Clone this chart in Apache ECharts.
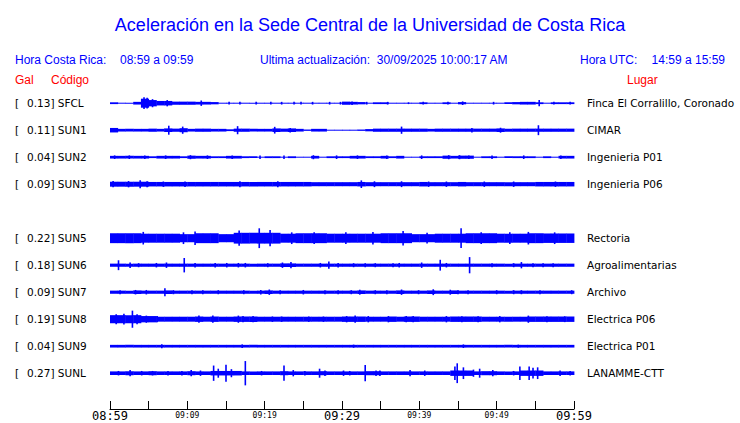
<!DOCTYPE html>
<html>
<head>
<meta charset="utf-8">
<script src="https://cdn.jsdelivr.net/npm/echarts@6/dist/echarts.min.js"></script>
<style>
  html, body { margin: 0; background: #fff; }
  #chart { width: 740px; height: 423px; }
</style>
</head>
<body>
<div id="chart"></div>
<script>
// filas (la fila 4 va vacia, como en la figura)
const codes = ['SFCL', 'SUN1', 'SUN2', 'SUN3', '', 'SUN5', 'SUN6', 'SUN7', 'SUN8', 'SUN9', 'SUNL']
const places = ['Finca El Corralillo, Coronado', 'CIMAR', 'Ingenieria P01', 'Ingenieria P06', '',
  'Rectoria', 'Agroalimentarias', 'Archivo', 'Electrica P06', 'Electrica P01', 'LANAMME-CTT']
const peakGal = ['0.13', '0.11', '0.04', '0.09', '', '0.22', '0.18', '0.09', '0.19', '0.04', '0.27']

// etiquetas del eje de tiempo (cada 5 min, desde 08:59)
const timeLabels = ['08:59', '', '09:09', '', '09:19', '', '09:29', '', '09:39', '', '09:49', '', '09:59']
const bigLabels = ['08:59', '09:29', '09:59']

// envolvente por minuto (Gal, media amplitud)
const envSFCL = [0.02, 0.01, 0.01, 0.03, 0.10, 0.07, 0.05, 0.05, 0.035, 0.035, 0.035, 0.03, 0.03, 0.025, 0.01,
  0.01, 0.01, 0.01, 0.01, 0.01, 0.01, 0.01, 0.01, 0.01, 0.01, 0.01, 0.01, 0.01, 0.01, 0.01,
  0.035, 0.03, 0.025, 0.01, 0.02, 0.02, 0.01, 0.01, 0.01, 0.01, 0.02, 0.01, 0.01, 0.02, 0.01,
  0.025, 0.01, 0.01, 0.01, 0.01, 0.01, 0.02, 0.025, 0.03, 0.03, 0.02, 0.01, 0.02, 0.02, 0.02]
const envSUN1 = [0.05, 0.03, 0.03, 0.03, 0.03, 0.035, 0.03, 0.04, 0.035, 0.045, 0.03, 0.035, 0.035, 0.03, 0.03,
  0.02, 0.035, 0.035, 0.03, 0.03, 0.03, 0.04, 0.035, 0.04, 0.03, 0.015, 0.03, 0.03, 0.01, 0.01,
  0.01, 0.01, 0.015, 0.025, 0.035, 0.035, 0.035, 0.035, 0.035, 0.035, 0.035, 0.03, 0.035, 0.035, 0.035,
  0.035, 0.035, 0.035, 0.035, 0.035, 0.04, 0.035, 0.035, 0.035, 0.035, 0.035, 0.035, 0.035, 0.035, 0.035]
const envSUN2 = [0.03, 0.03, 0.03, 0.03, 0.03, 0.02, 0.03, 0.03, 0.03, 0.02, 0.035, 0.03, 0.03, 0.02, 0.02,
  0.03, 0.03, 0.02, 0.02, 0.01, 0.02, 0.02, 0.01, 0.02, 0.01, 0.01, 0.03, 0.01, 0.02, 0.02,
  0.02, 0.03, 0.03, 0.02, 0.02, 0.03, 0.02, 0.03, 0.01, 0.01, 0.02, 0.02, 0.02, 0.035, 0.03,
  0.035, 0.035, 0.01, 0.02, 0.02, 0.01, 0.02, 0.02, 0.02, 0.02, 0.01, 0.02, 0.01, 0.03, 0.03]
const envSUN3 = [0.055, 0.055, 0.055, 0.055, 0.055, 0.05, 0.05, 0.05, 0.05, 0.05, 0.05, 0.05, 0.05, 0.05, 0.05,
  0.05, 0.05, 0.05, 0.05, 0.05, 0.05, 0.05, 0.05, 0.05, 0.05, 0.05, 0.045, 0.045, 0.045, 0.045,
  0.045, 0.045, 0.05, 0.045, 0.045, 0.045, 0.045, 0.045, 0.045, 0.045, 0.05, 0.045, 0.045, 0.045, 0.045,
  0.05, 0.045, 0.045, 0.045, 0.045, 0.045, 0.045, 0.045, 0.045, 0.045, 0.05, 0.05, 0.05, 0.05, 0.05]
const envSUN5 = [0.11, 0.11, 0.11, 0.11, 0.10, 0.10, 0.10, 0.10, 0.10, 0.09, 0.09, 0.11, 0.11, 0.11, 0.09,
  0.09, 0.12, 0.12, 0.12, 0.12, 0.12, 0.12, 0.10, 0.10, 0.11, 0.11, 0.11, 0.11, 0.10, 0.10,
  0.10, 0.10, 0.10, 0.10, 0.10, 0.11, 0.11, 0.11, 0.11, 0.09, 0.09, 0.09, 0.10, 0.10, 0.10,
  0.10, 0.11, 0.11, 0.11, 0.11, 0.10, 0.10, 0.10, 0.10, 0.11, 0.11, 0.105, 0.105, 0.105, 0.105]
const envSUN6 = [0.035, 0.035, 0.035, 0.035, 0.035, 0.035, 0.035, 0.035, 0.035, 0.035, 0.035, 0.035, 0.035, 0.035, 0.035,
  0.035, 0.035, 0.035, 0.035, 0.035, 0.035, 0.035, 0.04, 0.04, 0.035, 0.035, 0.035, 0.035, 0.035, 0.035,
  0.035, 0.035, 0.035, 0.035, 0.035, 0.035, 0.035, 0.035, 0.035, 0.035, 0.035, 0.035, 0.035, 0.035, 0.035,
  0.035, 0.035, 0.035, 0.035, 0.035, 0.035, 0.035, 0.035, 0.035, 0.035, 0.035, 0.035, 0.035, 0.035, 0.035]
const envSUN7 = [0.035, 0.035, 0.035, 0.04, 0.035, 0.035, 0.035, 0.04, 0.035, 0.035, 0.035, 0.035, 0.035, 0.035, 0.035,
  0.035, 0.035, 0.035, 0.035, 0.035, 0.04, 0.035, 0.035, 0.035, 0.035, 0.035, 0.035, 0.035, 0.035, 0.035,
  0.035, 0.035, 0.04, 0.035, 0.035, 0.035, 0.035, 0.04, 0.035, 0.035, 0.035, 0.04, 0.035, 0.035, 0.04,
  0.035, 0.035, 0.035, 0.035, 0.035, 0.035, 0.035, 0.035, 0.035, 0.035, 0.035, 0.035, 0.035, 0.035, 0.035]
const envSUN8 = [0.09, 0.09, 0.09, 0.09, 0.07, 0.07, 0.055, 0.055, 0.055, 0.055, 0.055, 0.06, 0.055, 0.06, 0.055,
  0.055, 0.06, 0.06, 0.06, 0.055, 0.055, 0.055, 0.055, 0.055, 0.055, 0.055, 0.055, 0.055, 0.055, 0.055,
  0.06, 0.06, 0.06, 0.055, 0.055, 0.055, 0.06, 0.055, 0.06, 0.06, 0.055, 0.055, 0.055, 0.055, 0.06,
  0.06, 0.06, 0.06, 0.055, 0.055, 0.055, 0.055, 0.055, 0.055, 0.06, 0.06, 0.06, 0.06, 0.06, 0.06]
const envSUN9 = [0.03, 0.03, 0.03, 0.03, 0.03, 0.03, 0.03, 0.03, 0.03, 0.03, 0.03, 0.03, 0.03, 0.03, 0.03,
  0.03, 0.03, 0.03, 0.03, 0.03, 0.03, 0.03, 0.03, 0.03, 0.03, 0.03, 0.03, 0.03, 0.03, 0.03,
  0.03, 0.03, 0.03, 0.03, 0.03, 0.03, 0.03, 0.03, 0.03, 0.03, 0.03, 0.03, 0.03, 0.03, 0.03,
  0.03, 0.03, 0.03, 0.03, 0.03, 0.03, 0.03, 0.03, 0.03, 0.03, 0.03, 0.03, 0.03, 0.03, 0.03]
const envSUNL = [0.04, 0.04, 0.045, 0.04, 0.04, 0.045, 0.04, 0.04, 0.04, 0.04, 0.045, 0.04, 0.04, 0.05, 0.05,
  0.05, 0.05, 0.04, 0.04, 0.04, 0.04, 0.04, 0.045, 0.04, 0.04, 0.04, 0.04, 0.045, 0.04, 0.04,
  0.04, 0.04, 0.04, 0.045, 0.045, 0.04, 0.04, 0.04, 0.04, 0.04, 0.04, 0.04, 0.04, 0.04, 0.06,
  0.06, 0.06, 0.04, 0.045, 0.045, 0.04, 0.04, 0.04, 0.06, 0.06, 0.06, 0.04, 0.04, 0.04, 0.04]

// picos aislados [minuto, Gal]
const spikesSFCL = [[4.4, 0.13], [4.8, 0.12], [5.5, 0.09], [7.4, 0.07], [11.8, 0.06], [15.4, 0.03], [16.8, 0.03],
  [18.9, 0.03], [20.8, 0.03], [22.2, 0.03], [23.8, 0.03], [24.7, 0.03], [26.2, 0.03], [28.4, 0.03], [29.8, 0.03],
  [31.3, 0.04], [33.2, 0.03], [35.9, 0.03], [38.6, 0.02], [40.5, 0.03], [43.7, 0.03], [45.6, 0.04], [49.6, 0.03],
  [55.5, 0.07], [57.4, 0.03], [59.5, 0.03]]
const spikesSUN1 = [[7.6, 0.10], [9.4, 0.08], [16.5, 0.09], [21.3, 0.075], [23.3, 0.05], [37.7, 0.08],
  [46.8, 0.05], [50.5, 0.055], [55.4, 0.11]]
const spikesSUN2 = [[0.6, 0.04], [2.5, 0.04], [4.5, 0.04], [7.2, 0.04], [10.4, 0.045], [12.6, 0.04], [15.8, 0.04],
  [19.4, 0.04], [22.5, 0.04], [26.3, 0.045], [29.3, 0.04], [32, 0.04], [35.8, 0.04], [40.3, 0.04], [43.8, 0.045],
  [45.2, 0.045], [46.4, 0.04], [49.4, 0.04], [53.5, 0.04], [58.3, 0.04]]
const spikesSUN3 = [[0.4, 0.07], [2.4, 0.07], [3.9, 0.09], [4.8, 0.065], [6.9, 0.06], [9.7, 0.06], [16.8, 0.065],
  [21.7, 0.065], [32.5, 0.085], [34.2, 0.065], [37.7, 0.065], [41.2, 0.06], [43.5, 0.06], [48.4, 0.06],
  [52.2, 0.06], [57.6, 0.06]]
const spikesSUN5 = [[4.3, 0.14], [9.5, 0.13], [11, 0.15], [16.7, 0.17], [19.3, 0.22], [20.7, 0.18], [23.5, 0.13],
  [26.4, 0.13], [30.5, 0.13], [34, 0.14], [37.9, 0.16], [41, 0.12], [45.4, 0.22], [48, 0.13], [51.7, 0.13],
  [54.1, 0.14], [57.5, 0.13]]
const spikesSUN6 = [[1.1, 0.11], [2.6, 0.06], [3.7, 0.045], [6, 0.05], [7.3, 0.06], [9.6, 0.16], [11, 0.05],
  [13.6, 0.05], [15.1, 0.05], [16.6, 0.05], [17.5, 0.05], [20.4, 0.045], [22.3, 0.06], [23.4, 0.07], [27.2, 0.05],
  [28.3, 0.08], [29.5, 0.05], [31.5, 0.045], [33, 0.045], [34.3, 0.045], [36.6, 0.045], [37.4, 0.05], [40.3, 0.06],
  [42.7, 0.12], [43.5, 0.05], [46.5, 0.18], [49.4, 0.045], [52.2, 0.045], [53.2, 0.07], [54.7, 0.045],
  [56, 0.045], [57.3, 0.045]]
const spikesSUN7 = [[1.3, 0.045], [3.3, 0.05], [4.7, 0.05], [7.1, 0.09], [8.2, 0.045], [10.6, 0.045], [12, 0.045],
  [14, 0.045], [17.3, 0.045], [19.5, 0.05], [20.6, 0.06], [22, 0.045], [25, 0.05], [27.8, 0.045], [29.5, 0.045],
  [31.2, 0.045], [32.3, 0.055], [34.3, 0.045], [35.8, 0.045], [37.7, 0.06], [39.9, 0.045], [41.8, 0.065],
  [44, 0.055], [45, 0.045], [46.3, 0.045], [50, 0.045], [52.2, 0.045], [53.2, 0.045], [55.6, 0.045], [59.7, 0.045]]
const spikesSUN8 = [[0.8, 0.11], [1.8, 0.12], [2.9, 0.19], [3.5, 0.11], [4.7, 0.08], [6.1, 0.07], [11.5, 0.08],
  [13.3, 0.08], [16.6, 0.08], [17.2, 0.07], [18.5, 0.07], [21, 0.06], [22.2, 0.06], [25.7, 0.06], [27.6, 0.06],
  [30.6, 0.07], [31.7, 0.08], [33.4, 0.07], [36, 0.07], [38.3, 0.07], [39.2, 0.07], [43.5, 0.07], [45.5, 0.065],
  [47.6, 0.065], [50.4, 0.07], [54.1, 0.08], [56.5, 0.065], [58.8, 0.065]]
const spikesSUN9 = [[6.7, 0.045], [17.1, 0.04], [31.5, 0.035], [45.7, 0.04], [52.8, 0.035]]
const spikesSUNL = [[1.1, 0.05], [2.6, 0.07], [4.1, 0.05], [5.5, 0.05], [7.5, 0.05], [9.3, 0.05], [10.5, 0.07],
  [11.7, 0.06], [13.4, 0.17], [14, 0.10], [15, 0.19], [15.7, 0.09], [17.5, 0.27], [19.6, 0.05], [22.5, 0.17],
  [23.7, 0.07], [25.2, 0.05], [27.1, 0.10], [27.8, 0.06], [30.2, 0.06], [31, 0.05], [33, 0.18], [34.4, 0.06],
  [34.9, 0.06], [38.8, 0.07], [40.7, 0.06], [44.6, 0.15], [44.9, 0.22], [45.7, 0.13], [47, 0.08], [47.8, 0.10],
  [49.5, 0.07], [52.2, 0.05], [53, 0.15], [54.2, 0.15], [54.7, 0.12], [55.3, 0.13], [58.2, 0.06], [59.5, 0.05]]

const traces = [
  [0, envSFCL, spikesSFCL], [1, envSUN1, spikesSUN1], [2, envSUN2, spikesSUN2], [3, envSUN3, spikesSUN3],
  [5, envSUN5, spikesSUN5], [6, envSUN6, spikesSUN6], [7, envSUN7, spikesSUN7], [8, envSUN8, spikesSUN8],
  [9, envSUN9, spikesSUN9], [10, envSUNL, spikesSUNL],
]

const ROW_GAL = 0.6 // Gal que ocupa la separacion entre trazas
const BLUE = '#0000ff'

const envData = []
const spikeData = []
traces.forEach(([row, env, spikes]) => {
  env.forEach((a, k) => envData.push([k, a, row]))
  spikes.forEach(([t, a]) => spikeData.push([t, a, row]))
})

function pxPerGal(api) {
  return Math.abs(api.size([0, 1])[1]) / ROW_GAL
}

function renderEnv(params, api) {
  const t = api.value(0)
  const row = api.value(2)
  const p0 = api.coord([t, row])
  const p1 = api.coord([t + 1, row])
  const h = Math.max(api.value(1) * pxPerGal(api), 0.5)
  return {
    type: 'rect',
    shape: { x: p0[0], y: p0[1] - h, width: p1[0] - p0[0] + 0.4, height: h * 2 },
    style: { fill: BLUE },
  }
}

function renderSpike(params, api) {
  const p = api.coord([api.value(0), api.value(2)])
  const h = api.value(1) * pxPerGal(api)
  return {
    type: 'rect',
    shape: { x: p[0] - 0.8, y: p[1] - h, width: 1.6, height: h * 2 },
    style: { fill: BLUE },
  }
}

const chart = echarts.init(document.getElementById('chart'), null, { renderer: 'svg' })

const hdr = { color: BLUE, fontSize: 12, fontWeight: 'normal', fontFamily: 'Liberation Sans' }
const red = { color: '#ff0000', fontSize: 12, fontWeight: 'normal', fontFamily: 'Liberation Sans' }

const option = {
  animation: false,
  backgroundColor: '#fff',
  title: [
    {
      text: 'Aceleración en la Sede Central de la Universidad de Costa Rica',
      left: 'center',
      top: 11,
      textStyle: { color: BLUE, fontSize: 18, fontWeight: 'normal', fontFamily: 'Liberation Sans' },
    },
    { text: 'Hora Costa Rica:', left: 10, top: 49, textStyle: hdr },
    { text: '08:59 a 09:59', left: 115, top: 49, textStyle: hdr },
    { text: 'Ultima actualización:  30/09/2025 10:00:17 AM', left: 255, top: 49, textStyle: hdr },
    { text: 'Hora UTC:', left: 575, top: 49, textStyle: hdr },
    { text: '14:59 a 15:59', right: 10, top: 49, textStyle: hdr },
    { text: 'Gal', left: 10, top: 69, textStyle: red },
    { text: 'Código', left: 46, top: 69, textStyle: red },
    { text: 'Lugar', left: 622, top: 69, textStyle: red },
  ],
  grid: { left: 110, right: 166, top: 89.7, bottom: 36.3, containLabel: false, outerBoundsMode: 'none' },
  xAxis: {
    type: 'value',
    min: 0,
    max: 60,
    interval: 5,
    offset: 22.3,
    splitLine: { show: false },
    axisLine: { show: true, onZero: false, lineStyle: { color: '#000', width: 1 } },
    axisTick: { show: true, inside: true, length: 8, lineStyle: { color: '#000', width: 1 } },
    axisLabel: {
      margin: 1,
      verticalAlign: 'top',
      formatter: (v) => {
        const s = timeLabels[Math.round(v / 5)] || ''
        if (!s) return ''
        return bigLabels.includes(s) ? '{big|' + s + '}' : '{small|' + s + '}'
      },
      rich: {
        big: { fontSize: 12, lineHeight: 12, fontFamily: 'DejaVu Sans Mono', color: '#000' },
        small: { fontSize: 8, lineHeight: 9, fontFamily: 'DejaVu Sans Mono', color: '#000', padding: [2, 0, 0, 0] },
      },
    },
  },
  yAxis: [
    {
      type: 'category',
      data: codes,
      inverse: true,
      axisLine: { show: false },
      axisTick: { show: false },
      splitLine: { show: false },
      axisLabel: {
        align: 'left',
        margin: 95,
        formatter: (v, i) => (v ? '{a|[}{b|' + peakGal[i] + ']} ' + v : ''),
        color: '#000',
        fontSize: 10.5,
        fontFamily: 'DejaVu Sans',
        rich: {
          a: { width: 12, fontSize: 10.5, fontFamily: 'DejaVu Sans', color: '#000' },
          b: { fontSize: 10.5, fontFamily: 'DejaVu Sans', color: '#000' },
        },
      },
    },
    {
      type: 'category',
      data: places,
      inverse: true,
      position: 'right',
      axisLine: { show: false },
      axisTick: { show: false },
      splitLine: { show: false },
      axisLabel: { margin: 13, color: '#000', fontSize: 10.5, fontFamily: 'DejaVu Sans' },
    },
  ],
  series: [
    {
      type: 'custom',
      renderItem: renderEnv,
      data: envData,
      encode: { x: 0, y: 2 },
      yAxisIndex: 0,
      silent: true,
    },
    {
      type: 'custom',
      renderItem: renderSpike,
      data: spikeData,
      encode: { x: 0, y: 2 },
      yAxisIndex: 0,
      silent: true,
    },
  ],
}

chart.setOption(option)
</script>
</body>
</html>
